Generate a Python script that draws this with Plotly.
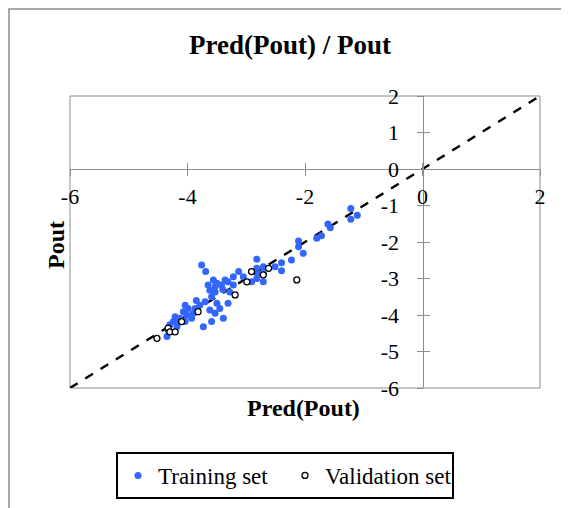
import plotly.graph_objects as go


# ==========================
# DATA
# ==========================

train_pred = [
    -1.22, -1.11, -1.22, -1.61, -1.57, -1.72, -1.80, -2.11, -2.11, -2.03,
    -2.23, -2.40, -2.40, -2.51, -2.82, -2.82, -2.71, -2.80, -2.71, -2.82,
    -2.71, -2.91, -3.76, -3.69, -3.13, -3.22, -3.31, -3.56, -3.50, -3.42,
    -3.62, -3.53, -3.28, -3.22, -3.59, -3.70, -3.50, -3.31, -3.45, -3.62,
    -3.53, -3.39, -3.59, -3.73, -3.79, -3.87, -3.90, -3.99, -4.07, -4.04,
    -4.01, -3.93, -4.04, -4.13, -4.21, -4.24, -4.30, -4.18, -4.33, -4.35,
    -3.53, -3.65, -3.36, -3.40, -3.85, -4.15, -3.05
]

train_pout = [
    -1.08, -1.27, -1.38, -1.51, -1.61, -1.83, -1.90, -1.97, -2.13, -2.31,
    -2.49, -2.57, -2.79, -2.68, -2.47, -2.72, -2.68, -2.90, -2.86, -3.00,
    -3.09, -3.09, -2.63, -2.81, -2.81, -2.95, -3.09, -3.04, -3.13, -3.18,
    -3.32, -3.37, -3.37, -3.18, -3.50, -3.64, -3.68, -3.68, -3.82, -3.86,
    -3.95, -4.09, -4.18, -4.32, -3.73, -3.82, -3.95, -3.82, -3.91, -3.73,
    -4.00, -4.09, -4.18, -4.09, -4.05, -4.18, -4.27, -4.32, -4.41, -4.59,
    -3.22, -3.18, -3.04, -3.30, -3.60, -4.20, -2.95
]

valid_pred = [
    -2.14, -2.62, -2.91, -2.71, -2.99, -3.19,
    -3.82, -4.10, -4.33, -4.30, -4.21, -4.52
]

valid_pout = [
    -3.04, -2.72, -2.81, -2.90, -3.09, -3.45,
    -3.91, -4.18, -4.36, -4.46, -4.46, -4.64
]

ideal_x = [-6, 2]
ideal_y = [-6, 2]

x_tickvals = [-6, -4, -2, 0, 2]
x_ticktext = ["-6", "-4", "-2", "0", "2"]

y_tickvals = [-6, -5, -4, -3, -2, -1, 0, 1, 2]
y_ticktext = ["-6", "-5", "-4", "-3", "-2", "-1", "0", "1", "2"]


FONT = "Liberation Serif"
GRAY = "#8c8c8c"

# page has an 8px body margin, so the figure is drawn 8px smaller
W, H = 561, 500
OFF = 8

# plot area in page pixels
PL, PR, PT, PB = 70, 540, 96, 388


def px_x(px):
    return (px - PL) / (PR - PL)


def px_y(py):
    return (PB - py) / (PB - PT)


fig = go.Figure()


# Ideal line y = x

fig.add_trace(
    go.Scatter(
        x=ideal_x,
        y=ideal_y,
        mode="lines",
        line=dict(color="black", width=2.5, dash="dash"),
        showlegend=False,
        hoverinfo="skip"
    )
)


# Training set

fig.add_trace(
    go.Scatter(
        x=train_pred,
        y=train_pout,
        mode="markers",
        name="Training set",
        marker=dict(color="#3366FF", size=7)
    )
)


# Validation set

fig.add_trace(
    go.Scatter(
        x=valid_pred,
        y=valid_pout,
        mode="markers",
        name="Validation set",
        marker=dict(
            color="white",
            size=6,
            line=dict(color="black", width=1.3)
        )
    )
)


# Dummy trace so the second (inside-tick) axes get drawn

fig.add_trace(
    go.Scatter(
        x=[],
        y=[],
        xaxis="x2",
        yaxis="y2",
        showlegend=False,
        hoverinfo="skip"
    )
)


axis_common = dict(
    range=[-6, 2],
    showgrid=False,
    zeroline=False,
    anchor="free",
    position=0.75,
    tickcolor=GRAY,
    ticklen=6,
    tickwidth=1
)

fig.update_layout(

    width=W,
    height=H,

    margin=dict(
        l=PL - OFF,
        r=W - (PR - OFF),
        t=PT - OFF,
        b=H - (PB - OFF),
        autoexpand=False
    ),

    paper_bgcolor="white",
    plot_bgcolor="white",

    font=dict(family=FONT, color="black"),

    title=dict(
        text="<b>Pred(Pout) / Pout</b>",
        x=(290 - OFF) / W,
        xanchor="center",
        y=1 - (45 - OFF) / H,
        yanchor="middle",
        font=dict(family=FONT, size=27, color="black")
    ),

    xaxis=dict(
        **axis_common,
        tickvals=x_tickvals,
        ticktext=x_ticktext,
        showline=True,
        linecolor=GRAY,
        ticks="outside",
        tickfont=dict(family=FONT, size=22),
        ticklabelstandoff=2
    ),

    yaxis=dict(
        **axis_common,
        tickvals=y_tickvals,
        ticktext=y_ticktext,
        showline=True,
        linecolor=GRAY,
        ticks="outside",
        tickfont=dict(family=FONT, size=22),
        ticklabelstandoff=13
    ),

    xaxis2=dict(
        **axis_common,
        overlaying="x",
        matches="x",
        tickvals=x_tickvals,
        showline=False,
        ticks="inside",
        showticklabels=False
    ),

    yaxis2=dict(
        **axis_common,
        overlaying="y",
        matches="y",
        tickvals=y_tickvals,
        showline=False,
        ticks="inside",
        showticklabels=False
    ),

    legend=dict(
        orientation="h",
        x=px_x(116),
        xanchor="left",
        y=px_y(452),
        yanchor="top",
        bordercolor="black",
        borderwidth=2,
        bgcolor="white",
        entrywidth=122,
        font=dict(family=FONT, size=23)
    ),

    showlegend=True
)


# Plot area border and outer chart frame

fig.add_shape(
    type="rect",
    xref="paper", yref="paper",
    x0=0, x1=1, y0=0, y1=1,
    line=dict(color=GRAY, width=1),
    layer="below"
)

fig.add_shape(
    type="rect",
    xref="paper", yref="paper",
    x0=px_x(9), x1=px_x(600),
    y0=px_y(540), y1=px_y(9),
    line=dict(color=GRAY, width=1.5),
    layer="below"
)


# Axis titles

fig.add_annotation(
    text="<b>Pred(Pout)</b>",
    xref="paper", yref="paper",
    x=px_x(303),
    y=px_y(408),
    xanchor="center",
    yanchor="middle",
    showarrow=False,
    font=dict(family=FONT, size=24, color="black")
)

fig.add_annotation(
    text="<b>Pout</b>",
    xref="paper", yref="paper",
    x=px_x(56),
    y=px_y(245),
    xanchor="center",
    yanchor="middle",
    textangle=-90,
    showarrow=False,
    font=dict(family=FONT, size=24, color="black")
)


fig.write_html("out.html")
